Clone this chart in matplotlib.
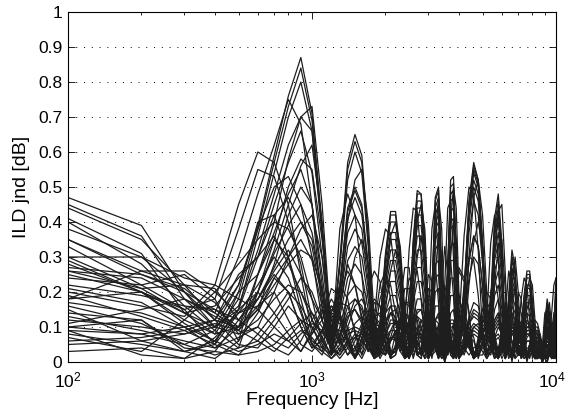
import matplotlib
matplotlib.use("Agg")
import matplotlib.pyplot as plt
from matplotlib.ticker import FixedLocator, NullFormatter
from matplotlib.transforms import ScaledTranslation

plt.rcParams["font.family"] = ["Liberation Sans", "DejaVu Sans"]
plt.rcParams["mathtext.fontset"] = "custom"
plt.rcParams["mathtext.rm"] = "Liberation Sans"
plt.rcParams["mathtext.it"] = "Liberation Sans:italic"

# frequency grid of the curves (Hz)
freq_hz = list(range(100, 4001, 100)) + list(range(4200, 10001, 200))

# ILD jnd values, in 0.01 dB
# curves whose lobes peak at 900, 1500, 2150, 2750 ... Hz
main_lobe_curves = [
    [12,10,8,10,22, 39,59,76,87,71,39,5, 29,57,65,59,36,6, 11,31,43,43,31,8, 11,35,49,48,35,9, 20,47,50,25,2, 27,52,53,32,6, 20,46,57,52,34,10, 17,41,48,34,5, 19,32,27,10, 7,19,26,26,18,4, 5,8,1, 11,18,14,4, 10,24],
    [25,20,12,8,18, 38,57,73,84,69,38,6, 28,55,63,57,35,7, 11,30,42,42,30,9, 12,34,48,48,34,9, 20,46,49,25,2, 27,50,51,32,5, 20,45,56,52,34,9, 16,39,46,32,4, 18,30,26,8, 7,18,25,25,17,3, 4,6,1, 10,17,14,3, 9,22],
    [17,14,10,6,15, 36,54,70,80,66,36,5, 27,52,60,54,33,6, 10,29,40,40,29,8, 12,33,46,46,33,8, 19,44,47,24,2, 26,48,49,31,5, 19,44,55,51,33,9, 15,37,44,31,4, 17,29,25,7, 6,18,24,24,16,3, 3,5,1, 10,16,13,3, 8,20],
    [9,8,5,9,20, 25,40,58,70,73,45,8, 22,44,50,45,28,5, 10,27,37,37,27,8, 11,32,44,44,32,8, 18,42,45,23,2, 25,48,49,30,5, 19,43,54,50,32,9, 15,36,42,29,3, 16,27,23,7, 6,16,22,22,15,3, 3,4,1, 9,15,12,3, 7,18],
    [30,21,14,10,16, 32,48,62,70,66,38,6, 22,43,49,44,27,5, 9,25,35,35,25,7, 11,30,42,42,30,8, 17,40,42,22,2, 24,46,47,29,5, 18,42,52,48,31,8, 14,34,40,28,3, 16,26,22,7, 6,15,21,21,14,3, 3,4,1, 9,14,11,3, 6,16],
    [6,7,9,12,25, 30,45,57,66,54,30,5, 21,41,47,42,26,5, 8,23,32,32,23,7, 10,28,39,39,28,7, 16,38,40,21,2, 23,43,44,27,5, 18,40,50,46,30,8, 13,31,37,26,3, 14,24,20,6, 5,14,19,19,13,2, 3,4,1, 8,13,10,2, 6,14],
    [14,12,4,3,12, 20,32,45,56,62,40,6, 19,37,42,38,23,4, 8,21,29,29,21,6, 9,26,36,36,26,7, 15,35,37,19,2, 21,40,41,25,4, 16,37,46,42,28,7, 12,29,34,24,3, 13,22,19,6, 5,13,17,17,12,2, 2,4,1, 7,12,10,2, 5,12],
    [22,19,16,15,10, 25,37,48,55,45,25,4, 17,33,38,34,21,4, 7,19,26,26,19,5, 8,23,32,32,23,6, 14,32,34,18,1, 20,38,39,24,4, 13,29,36,33,22,6, 11,26,30,21,2, 11,19,16,5, 4,11,16,15,10,2, 2,3,1, 6,10,8,2, 4,10],
    [11,15,18,13,9, 15,28,42,50,45,22,4, 15,29,33,30,18,3, 6,17,23,23,17,5, 7,20,27,27,20,5, 12,28,29,15,1, 18,33,34,21,3, 11,24,30,28,18,5, 9,22,26,18,2, 10,16,14,4, 4,10,14,13,9,2, 2,3,0, 5,9,7,2, 3,8],
    [8,5,3,6,15, 20,31,39,45,37,20,3, 13,24,28,25,15,3, 5,14,19,19,14,4, 6,17,23,23,17,4, 10,24,25,13,1, 15,29,29,18,3, 5,11,14,13,8,2, 8,19,22,15,2, 8,14,12,4, 3,8,12,11,8,1, 2,2,0, 5,8,6,1, 2,6],
    [19,13,9,5,14, 18,27,35,40,33,18,3, 10,19,22,20,12,2, 4,11,16,16,11,3, 5,13,18,18,13,3, 9,20,21,11,1, 13,24,24,15,3, 13,29,36,33,22,6, 6,15,18,13,1, 7,11,9,3, 3,7,10,10,7,1, 1,2,0, 4,6,5,1, 2,5],
    [13,9,6,4,10, 16,24,30,35,29,16,2, 8,16,18,16,10,2, 3,8,12,12,8,2, 4,11,15,15,11,3, 7,16,16,9,1, 10,19,19,12,2, 4,8,10,9,6,2, 5,12,14,10,1, 5,9,8,2, 2,6,8,8,5,1, 1,2,0, 3,5,4,1, 2,4],
    # same lobes, slightly later / earlier zeros
    [38,30,20,12,10, 20,35,50,58,55,35,10, 15,40,52,55,40,12, 5,22,36,40,33,15, 6,25,40,45,38,15, 5,35,47,38,10, 15,40,50,44,20, 8,30,47,52,42,20, 5,30,43,45,25, 3,22,30,20, 4,12,20,24,22,12, 2,4,3, 2,12,17,10, 1,8],
    [26,24,18,14,30, 48,62,75,68,45,15,3, 38,48,42,25,6,12, 30,38,36,24,6,10, 32,44,43,30,8,12, 38,45,28,4,22, 44,46,30,6,10, 36,50,48,32,8,12, 34,42,30,5,14, 26,22,6,8, 18,24,22,12,2,5, 6,3,5, 14,15,6,3, 12,18],
    [18,26,22,17,8, 10,20,30,38,42,30,12, 5,20,30,35,28,10, 3,15,26,32,28,14, 4,18,30,36,30,12, 4,25,36,30,8, 10,30,40,35,16, 6,22,34,40,33,16, 4,22,33,35,20, 2,16,22,15, 3,9,15,18,17,9, 2,3,2, 2,9,13,8, 1,6],
    [7,3,12,20,28, 35,40,38,30,18,6,2, 20,26,22,13,3,7, 18,23,22,14,3,6, 20,27,26,18,5,7, 24,28,17,2,13, 28,29,19,4,6, 22,30,29,19,5,7, 20,25,18,3,8, 16,14,4,5, 11,15,14,8,1,3, 4,2,3, 8,9,4,2, 7,11],
]

# curves peaking early (600-800 Hz) with lobes between the main ones
offset_lobe_curves = [
    [20,16,13,22,45, 60,57,45,25,8, 12,21,19,9,1, 10,21,26,23,13,3, 4,17,27,27,17,4, 3,14,25,23,9,3, 21,33,25,5, 3,17,27,24,14,1, 7,15,20,18,7,1, 10,17,12,1, 12,20,18,10,1, 5,10,12,11,8,5,2,1, 6,14,22,24],
    [28,20,15,18,38, 55,53,40,28,12, 8,14,13,6,1, 7,14,18,16,9,2, 3,13,21,21,13,3, 2,11,19,18,7,2, 14,22,17,3, 3,16,26,23,14,1, 6,13,17,15,6,1, 8,14,10,1, 10,16,14,8,1, 5,8,10,10,7,4,2,1, 4,9,14,15],
    [10,8,10,12,22, 38,50,53,45,30, 12,3,15,28,22,12,3,10,22,26,18,6,4,15,24,22,10,2,12,21,20,8,3,15,20,13,3,6,14,18, 14,6,1,6,12,15,13,6,1,9,13,9,1,8,12,11,6,1,4,8,9,9,6,3,2,1,3,6,9,10],
    [35,25,20,10,15, 30,42,47,40,35,20,10, 5,12,18,15,8,2,8,14,16,12,5,3,9,13,12,6,1,7,12,10,4,2,9,12,8,2,5,10, 11,7,2,5,9,10,7,2,4,8,8,4,1,5,7,6,2,2,5,6,5,2,1,3,5,4,2,1,3,5],
    [5,6,3,5,20, 40,42,30,15,5, 9,16,14,7,1, 6,12,15,13,8,2, 3,11,17,17,11,3, 2,10,18,17,7,2, 12,19,14,3, 2,11,17,15,9,1, 5,11,14,13,5,1, 7,12,8,1, 7,12,11,6,1, 3,6,7,7,5,3,1,0, 3,6,9,10],
    [47,39,20,15,12, 18,25,20,10,4, 6,10,9,4,1, 5,9,11,10,6,1, 2,7,11,11,7,2, 1,6,11,10,4,1, 8,12,9,2, 1,7,12,10,6,1, 4,8,10,9,4,1, 5,9,6,0, 5,8,7,4,0, 3,5,6,6,4,2,1,0, 2,4,6,7],
]

# curves that stay low above 500 Hz
low_level_curves = [
    [45,36,18,10,8, 12,18,22,20,14,7,2,5,9,10,9,6,1,3,8,11,11,8,2,3,7,10,10,7,2,4,9,10,5,1,5,10,10,6,1, 4,9,11,10,7,2,4,9,11,8,1,6,10,9,3,3,7,10,10,7,1,2,3,1,6,10,8,2,4,9],
    [44,35,22,12,5, 4,10,16,12,5,2,8,13,10,4,1,5,9,7,3,6,9,5,1,4,8,6,2,3,7,8,4,1,3,6,7,4,1,4,7, 8,5,1,3,6,8,6,2,1,4,7,5,1,4,6,5,2,1,3,5,6,4,2,1,3,5,4,1,2,4],
    [41,31,14,8,10, 15,22,28,32,30,20,8,3,10,16,18,14,6,2,9,14,15,11,4,2,9,14,15,11,3,5,12,14,8,1,7,14,15,9,2, 6,13,17,16,10,3,5,12,14,10,1,7,12,10,3,3,8,11,11,8,2,3,4,1,5,8,7,2,5,12],
    [35,26,26,20,14, 16,20,12,5,3,7,12,11,5,1,4,8,10,9,5,1,2,7,10,10,7,2,1,6,10,9,4,1,7,10,8,2,1,6,10, 9,5,1,4,8,10,9,4,1,6,9,6,1,6,9,8,4,1,4,7,8,8,6,3,2,1,3,6,9,11],
    [33,22,25,18,6, 25,35,30,18,6,4,14,22,18,8,2,10,17,16,9,2,4,12,17,16,10,2,3,11,17,15,6,2,11,16,12,3,2,10,15, 13,7,1,5,11,14,12,5,1,8,12,8,1,7,11,10,5,1,4,7,9,8,6,3,2,1,4,8,11,13],
    [29,20,11,6,3, 5,8,6,9,7,3,1,3,6,7,6,4,1,2,5,7,7,5,1,2,5,7,7,5,1,3,6,6,3,0,3,6,6,4,1, 3,6,8,7,5,1,3,6,7,5,1,4,6,5,2,2,5,6,6,4,1,1,2,0,4,6,5,1,3,6],
    [27,25,21,14,9, 18,26,32,25,18,12,18,14,6,3,9,14,12,5,2,7,12,11,6,1,5,9,8,3,4,9,11,7,2,5,9,8,3,2,6, 10,8,3,2,6,9,7,2,3,7,6,2,3,6,5,2,3,6,6,3,1,4,5,3,1,3,5,4,1,3],
    [24,22,15,5,2, 8,14,20,16,10,4,2,7,13,15,12,6,2,5,11,14,13,8,2,4,10,13,12,8,2,6,12,13,6,1,7,12,12,7,2, 5,12,15,14,9,3,5,11,13,9,1,6,10,9,3,2,6,9,9,6,1,2,3,1,4,7,6,2,3,7],
    [21,17,10,4,7, 10,6,4,8,11,9,4,2,5,8,7,3,4,7,6,2,3,6,6,3,2,5,6,4,1,4,5,3,1,3,5,4,1,3,5, 4,2,4,5,3,1,3,5,4,1,3,4,3,1,2,4,3,1,2,3,3,1,2,3,2,1,2,3,2,1],
    [16,11,5,2,4, 20,14,8,3,9,15,13,6,2,6,11,12,8,3,2,6,9,8,4,1,4,8,8,4,1,5,8,6,2,2,6,7,4,1,4, 7,6,2,2,5,7,5,1,3,6,5,1,3,5,4,1,2,4,4,2,1,3,4,3,1,2,4,3,1,2],
    [9,2,1,7,14, 22,30,24,14,5,3,10,17,16,9,2,6,13,14,9,3,3,10,14,13,8,2,3,10,14,12,5,2,9,13,10,3,2,8,12, 10,5,1,4,9,11,10,4,1,7,10,7,1,6,9,8,4,1,3,6,7,7,5,2,1,1,3,7,10,12],
    [3,4,1,3,2, 3,5,9,12,10,5,1,4,8,9,8,5,1,3,7,9,9,6,1,2,6,8,8,6,1,3,7,8,4,0,4,8,8,5,1, 3,7,9,8,6,1,3,7,8,6,1,5,8,7,2,2,6,8,8,5,1,2,2,0,4,7,6,1,3,6],
    [40,28,16,9,4, 6,12,18,24,20,12,5,2,6,11,13,10,5,1,4,9,12,10,6,2,3,8,12,11,7,2,3,9,12,8,2,4,10,11,6, 2,6,10,11,8,3,2,7,10,8,2,3,8,9,5,1,4,7,8,6,2,1,3,2,1,4,6,4,1,5],
    [30,30,24,22,18, 15,10,6,3,8,14,16,12,6,2,5,10,13,11,6,1,5,11,14,12,6,2,4,10,13,9,3,3,9,12,9,3,2,8,11, 9,4,1,5,10,12,10,4,1,7,11,8,1,6,10,8,3,1,5,8,9,8,5,2,1,2,5,8,10,13],
    [26,21,22,21,12, 8,4,2,6,12,17,14,7,2,4,9,10,7,3,2,6,8,7,3,1,4,7,7,4,1,3,6,7,4,1,3,6,6,3,1, 4,7,6,2,2,5,7,5,1,3,6,5,1,3,5,4,1,2,5,5,3,1,2,3,2,1,3,4,3,1],
    [18,20,14,16,24, 30,36,28,20,12,6,2,8,14,15,11,5,1,6,12,14,11,5,1,5,11,13,10,4,1,6,12,11,5,1,6,11,11,6,1, 5,11,13,12,8,2,4,10,12,8,1,5,9,8,3,2,6,9,9,6,1,2,3,1,4,8,7,2,3,8],
    [15,6,8,11,9, 6,3,7,11,14,10,4,1,4,7,8,6,2,2,5,7,6,3,1,3,6,6,3,1,2,5,6,4,1,2,5,5,3,1,3, 5,4,1,2,4,5,4,1,2,4,4,2,1,3,4,3,1,2,3,3,2,1,2,2,1,2,3,2,1,2],
    [10,12,3,1,6, 14,24,20,10,4,9,15,13,6,1,7,13,14,9,3,2,8,12,11,6,1,5,10,11,7,1,6,11,10,4,2,8,11,8,2, 7,10,7,1,5,9,10,8,3,2,7,9,6,1,5,8,7,3,1,4,6,7,6,4,2,1,3,6,8,9],
]

y_ticks = [0, 0.1, 0.2, 0.3, 0.4, 0.5, 0.6, 0.7, 0.8, 0.9, 1]
y_tick_labels = ["0", "0.1", "0.2", "0.3", "0.4", "0.5", "0.6", "0.7", "0.8", "0.9", "1"]
x_ticks = [100, 1000, 10000]
x_tick_labels = ["$10^2$", "$10^3$", "$10^4$"]


fig = plt.figure(figsize=(5.68, 4.17), dpi=100)
ax = fig.add_axes([68 / 568, 55 / 417, 488 / 568, 350 / 417])

for curve in main_lobe_curves + offset_lobe_curves + low_level_curves:
    ax.plot(freq_hz, [v / 100 for v in curve], color="#1e1e1e", linewidth=0.9)

ax.set_xscale("log")
ax.set_xlim(100, 10000)
ax.set_ylim(0, 1)

ax.set_xticks(x_ticks, x_tick_labels)
minor = [m * d for d in (100, 1000) for m in range(2, 10)]
ax.xaxis.set_minor_locator(FixedLocator(minor))
ax.xaxis.set_minor_formatter(NullFormatter())
ax.set_yticks(y_ticks, y_tick_labels)

ax.tick_params(which="both", direction="in", top=True, right=True, labelsize=12.5, width=0.6)
ax.tick_params(which="major", length=5)
ax.tick_params(which="minor", length=2.5)
ax.tick_params(axis="x", pad=6)
ax.tick_params(axis="y", pad=4)

# keep the 10^4 label inside the figure, as in the reference
last = ax.get_xticklabels()[-1]
last.set_transform(last.get_transform() + ScaledTranslation(-0.04, 0, fig.dpi_scale_trans))

ax.yaxis.grid(True, linestyle=(0, (1, 7)), color="black", linewidth=0.7)
ax.set_axisbelow(True)
for sp in ax.spines.values():
    sp.set_linewidth(0.8)

ax.set_xlabel("Frequency [Hz]", fontsize=14, labelpad=1)
ax.set_ylabel("ILD jnd [dB]", fontsize=14, labelpad=6)

fig.savefig("out.png", dpi=100)
